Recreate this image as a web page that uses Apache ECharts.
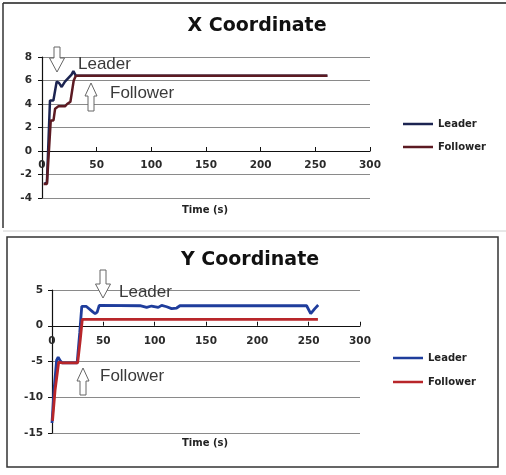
<!DOCTYPE html>
<html>
<head>
<meta charset="utf-8">
<script src="https://cdn.jsdelivr.net/npm/echarts@6/dist/echarts.min.js"></script>
<style>
html,body{margin:0;padding:0;background:#fff;}
#c{width:506px;height:475px;}
</style>
</head>
<body>
<div id="c"></div>
<script>
// ---- X Coordinate chart data ----
var xLeaderTime  = [2, 4.5, 7.3, 10.4, 13.4, 15.5, 18, 21, 24, 27, 28.7, 31, 261];
var xLeaderVal   = [-2.8, -2.7, 4.3, 4.3, 5.9, 5.8, 5.45, 5.9, 6.2, 6.5, 6.8, 6.4, 6.4];
var xFollowerTime = [1.5, 4.5, 8, 10.5, 12, 15, 21, 23, 26, 29, 31, 261];
var xFollowerVal  = [-2.8, -2.8, 2.6, 2.6, 3.6, 3.8, 3.8, 4.0, 4.2, 6.0, 6.4, 6.4];

// ---- Y Coordinate chart data ----
var yLeaderTime = [0, 2, 4.5, 6, 8, 10, 24.5, 27, 29, 33.5, 40, 42, 44, 46, 85.7, 92.2, 97, 103.5, 106.8, 111.7, 116.5, 121.4, 124.6, 248, 252, 256, 259.3];
var yLeaderVal  = [-13.6, -9, -4.8, -4.4, -4.9, -5.2, -5.2, -1, 2.7, 2.7, 1.9, 1.7, 1.9, 2.85, 2.8, 2.57, 2.76, 2.57, 2.85, 2.66, 2.4, 2.48, 2.8, 2.8, 1.7, 2.4, 2.9];
var yFollowerTime = [0.5, 3, 6.5, 10, 25, 27.5, 29.5, 259];
var yFollowerVal  = [-13.3, -9, -5.1, -5.2, -5.2, -2, 0.9, 0.9];

// ---- axes / labels ----
var timeTicks = [0, 50, 100, 150, 200, 250, 300];
var xChartYRange = [-4, 8, 2];
var yChartYRange = [-15, 5, 5];
var seriesNames = ['Leader', 'Follower'];
var titles = ['X Coordinate', 'Y Coordinate'];
var axisName = 'Time (s)';

function pairs(t, v) { return t.map(function (x, i) { return [x, v[i]]; }); }

var colTop = ['#1c2451', '#5c1a22'];
var colBot = ['#1f3d9c', '#b8262a'];
var lblFont = {fontFamily: 'DejaVu Sans', fontWeight: 'bold', fontSize: 10.5, color: '#2a2a2a'};

// grid geometry
var g0 = {left: 42, top: 57, width: 328, height: 141};
var g1 = {left: 52, top: 290, width: 308, height: 143};
// distance from grid bottom up to the zero line (x axis crosses at 0)
function zeroOffset(g, r) { return -g.height * (0 - r[0]) / (r[1] - r[0]); }

function xAx(gi, offset, margin) {
  return {
    type: 'value', gridIndex: gi, position: 'bottom', offset: offset,
    min: timeTicks[0], max: timeTicks[timeTicks.length - 1],
    interval: timeTicks[1] - timeTicks[0],
    axisLine: {onZero: false, lineStyle: {color: '#111', width: 1.2}},
    axisTick: {inside: true, length: 4, lineStyle: {color: '#111'}},
    axisLabel: Object.assign({margin: margin}, lblFont),
    splitLine: {show: false}
  };
}
function yAx(gi, r, margin) {
  return {
    type: 'value', gridIndex: gi, min: r[0], max: r[1], interval: r[2],
    axisLine: {show: true, onZero: false, lineStyle: {color: '#111', width: 1.2}},
    axisTick: {show: true, inside: false, length: 4, lineStyle: {color: '#111'}},
    axisLabel: Object.assign({margin: margin}, lblFont),
    splitLine: {show: true, lineStyle: {color: '#8a8a8a', width: 1}}
  };
}
function legendItem(name, color, left, top) {
  return {
    left: left, top: top, orient: 'vertical', icon: 'rect', itemWidth: 30, itemHeight: 2.5,
    selectedMode: false, padding: 0,
    textStyle: {fontFamily: 'DejaVu Sans', fontWeight: 'bold', fontSize: 10, color: '#222'},
    data: [{name: name, itemStyle: {color: color}}]
  };
}
function arrowDown(cx, top, shaftEnd, tip) {
  return {type: 'polygon', shape: {points: [[cx - 3, top], [cx + 3, top], [cx + 3, shaftEnd], [cx + 7.5, shaftEnd], [cx, tip], [cx - 7.5, shaftEnd], [cx - 3, shaftEnd]]},
    style: {fill: '#fff', stroke: '#666', lineWidth: 1}, z: 100};
}
function arrowUp(cx, tip, headBase, bottom) {
  return {type: 'polygon', shape: {points: [[cx, tip], [cx + 6, headBase], [cx + 3, headBase], [cx + 3, bottom], [cx - 3, bottom], [cx - 3, headBase], [cx - 6, headBase]]},
    style: {fill: '#fff', stroke: '#666', lineWidth: 1}, z: 100};
}
function annText(txt, x, y) {
  return {type: 'text', left: x, top: y, z: 100,
    style: {text: txt, font: '17px "Liberation Sans"', fill: '#3a3a3a'}};
}

var chart = echarts.init(document.getElementById('c'), null, {renderer: 'canvas'});
chart.setOption({
  animation: false,
  backgroundColor: '#fff',
  title: [
    {text: titles[0], left: 257, top: 17, textAlign: 'center', padding: 0,
      textStyle: {fontFamily: 'DejaVu Sans', fontWeight: 'bold', fontSize: 19, color: '#111'}},
    {text: titles[1], left: 250, top: 251, textAlign: 'center', padding: 0,
      textStyle: {fontFamily: 'DejaVu Sans', fontWeight: 'bold', fontSize: 19, color: '#111'}},
    {text: axisName, left: 205, top: 205, textAlign: 'center', padding: 0,
      textStyle: {fontFamily: 'DejaVu Sans', fontWeight: 'bold', fontSize: 10, color: '#222'}},
    {text: axisName, left: 205, top: 438, textAlign: 'center', padding: 0,
      textStyle: {fontFamily: 'DejaVu Sans', fontWeight: 'bold', fontSize: 10, color: '#222'}}
  ],
  grid: [g0, g1],
  xAxis: [xAx(0, zeroOffset(g0, xChartYRange), 9), xAx(1, zeroOffset(g1, yChartYRange), 10)],
  yAxis: [yAx(0, xChartYRange, 10), yAx(1, yChartYRange, 9)],
  legend: [
    legendItem(seriesNames[0], colTop[0], 403, 119),
    legendItem(seriesNames[1], colTop[1], 403, 142),
    legendItem(seriesNames[0], colBot[0], 393, 353),
    legendItem(seriesNames[1], colBot[1], 393, 377)
  ],
  series: [
    {name: seriesNames[0], type: 'line', xAxisIndex: 0, yAxisIndex: 0, showSymbol: false,
      data: pairs(xLeaderTime, xLeaderVal), lineStyle: {color: colTop[0], width: 2.5}, itemStyle: {color: colTop[0]}},
    {name: seriesNames[1], type: 'line', xAxisIndex: 0, yAxisIndex: 0, showSymbol: false,
      data: pairs(xFollowerTime, xFollowerVal), lineStyle: {color: colTop[1], width: 2.5}, itemStyle: {color: colTop[1]}},
    {name: seriesNames[0], type: 'line', xAxisIndex: 1, yAxisIndex: 1, showSymbol: false,
      data: pairs(yLeaderTime, yLeaderVal), lineStyle: {color: colBot[0], width: 2.8}, itemStyle: {color: colBot[0]}},
    {name: seriesNames[1], type: 'line', xAxisIndex: 1, yAxisIndex: 1, showSymbol: false,
      data: pairs(yFollowerTime, yFollowerVal), lineStyle: {color: colBot[1], width: 2.8}, itemStyle: {color: colBot[1]}}
  ],
  graphic: [
    // panel frames
    {type: 'line', shape: {x1: 3, y1: 3, x2: 506, y2: 3}, style: {stroke: '#555', lineWidth: 2}},
    {type: 'line', shape: {x1: 3, y1: 3, x2: 3, y2: 228}, style: {stroke: '#333', lineWidth: 1.5}},
    {type: 'line', shape: {x1: 3, y1: 231, x2: 506, y2: 231}, style: {stroke: '#d0d0d0', lineWidth: 1}},
    {type: 'rect', shape: {x: 7, y: 237, width: 491, height: 230}, style: {fill: 'none', stroke: '#333', lineWidth: 1.5}},
    // annotations
    arrowDown(57, 47, 58, 72),
    arrowUp(91, 83, 96, 111),
    annText('Leader', 78, 56),
    annText('Follower', 110, 85),
    arrowDown(103, 270, 284, 298),
    arrowUp(83, 368, 381, 395),
    annText('Leader', 119, 284),
    annText('Follower', 100, 368)
  ]
});
</script>
</body>
</html>
